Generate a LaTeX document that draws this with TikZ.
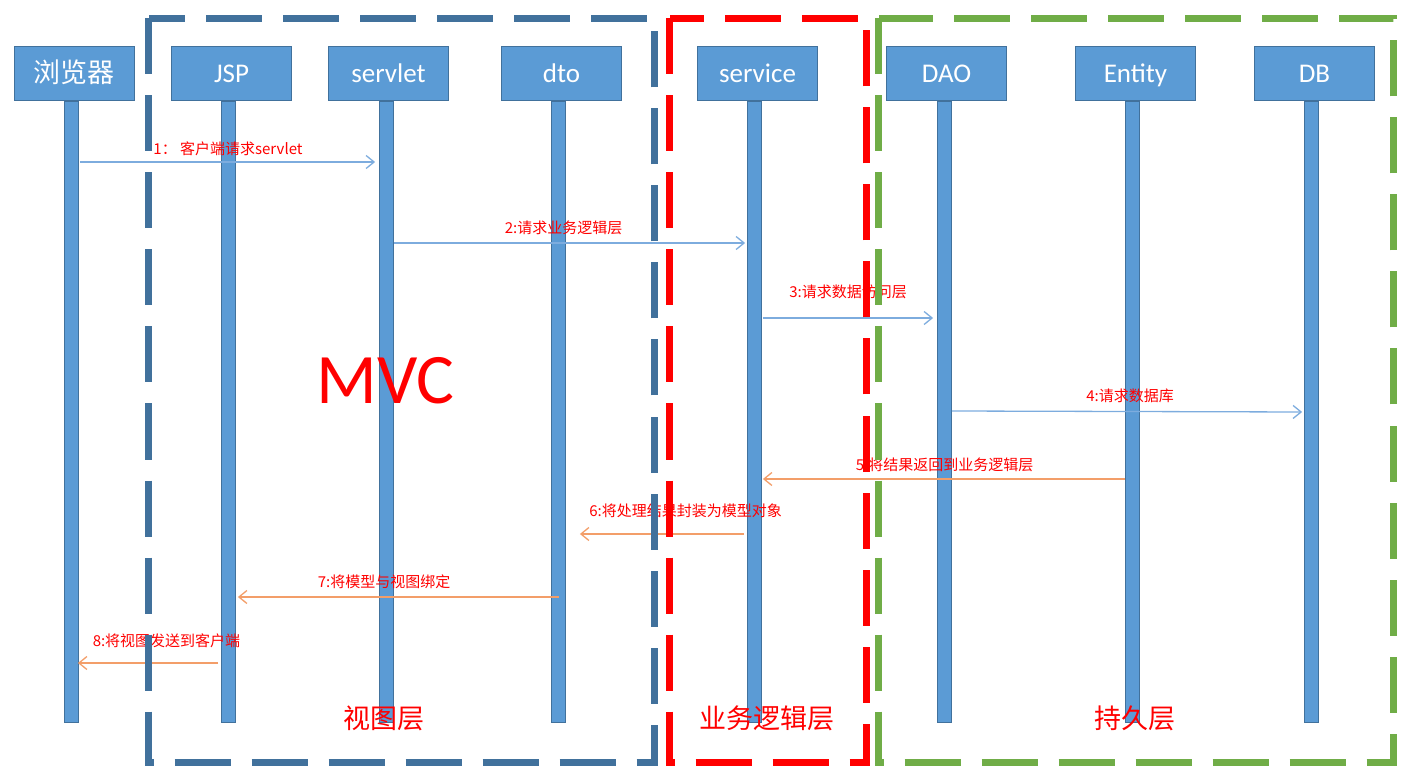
\documentclass[tikz,border=0pt]{standalone}
\usepackage{fontspec}
\setmainfont{Carlito}
\newfontfamily\cjk{Noto Sans CJK SC}
\usetikzlibrary{arrows.meta}
\definecolor{boxblue}{RGB}{91,155,213}
\definecolor{edgeblue}{RGB}{65,113,156}
\definecolor{arrblue}{RGB}{125,172,222}
\definecolor{arrorange}{RGB}{243,158,105}
\definecolor{dred}{RGB}{255,0,0}
\definecolor{dgreen}{RGB}{112,173,71}
\begin{document}
\begin{tikzpicture}[x=1pt,y=-1pt,
  hdr/.style={draw=edgeblue, fill=boxblue, line width=1pt, minimum width=120pt, minimum height=54pt, inner sep=0pt, text height=20pt, text depth=1pt, text=white, font=\fontsize{27}{30}\selectfont},
  life/.style={draw=edgeblue, fill=boxblue, line width=0.8pt, minimum width=14pt, minimum height=621pt, inner sep=0pt},
  msg/.style={line width=1.3pt, -{Straight Barb[length=8pt,width=13pt]}},
  req/.style={msg, draw=arrblue},
  ret/.style={msg, draw=arrorange},
  lbl/.style={text=dred, font=\cjk\fontsize{15}{15}\selectfont, inner sep=0pt},
  layer/.style={text=dred, font=\cjk\fontsize{27}{30}\selectfont, inner sep=0pt},
  zone/.style={line width=7pt, dash pattern=on 56pt off 21pt}
]
\useasboundingbox (0,0) rectangle (1419,783);

% lifelines
\node[life] (lb)  at (71.5,412) {};
\node[life] (lj)  at (228.5,412) {};
\node[life] (ls)  at (386.5,412) {};
\node[life] (ldt) at (558.5,412) {};
\node[life] (lsv) at (754.5,412) {};
\node[life] (lda) at (944.5,412) {};
\node[life] (len) at (1132.5,412) {};
\node[life] (ldb) at (1311.5,412) {};

% headers
\node[hdr] (hb)  at (74,73.5) {\cjk 浏览器};
\node[hdr] (hj)  at (231.5,73.5) {JSP};
\node[hdr] (hs)  at (388.5,73.5) {servlet};
\node[hdr] (hdt) at (561.5,73.5) {dto};
\node[hdr] (hsv) at (757.5,73.5) {service};
\node[hdr] (hda) at (946.5,73.5) {DAO};
\node[hdr] (hen) at (1135.5,73.5) {Entity};
\node[hdr] (hdb) at (1314.5,73.5) {DB};

% messages
\draw[req] ([xshift=1pt]lb.east |- 0,162) -- ([xshift=-4pt]ls.west |- 0,162);
\draw[req] (ls.east |- 0,243) -- ([xshift=-2pt]lsv.west |- 0,243);
\draw[req] ([xshift=1pt]lsv.east |- 0,318) -- ([xshift=-4pt]lda.west |- 0,318);
\draw[req] (lda.east |- 0,411) -- ([xshift=-2pt]ldb.west |- 0,412);
\draw[ret] (len.west |- 0,479) -- ([xshift=1pt]lsv.east |- 0,479);
\draw[ret] ([xshift=-3pt]lsv.west |- 0,534) -- ([xshift=14pt]ldt.east |- 0,534);
\draw[ret] (ldt.center |- 0,597) -- ([xshift=2pt]lj.east |- 0,597);
\draw[ret] ([xshift=-3pt]lj.west |- 0,663) -- ([xshift=-1pt]lb.east |- 0,663);

% message labels
\node[lbl] (m1) at (228,149) {1： 客户端请求servlet};
\node[lbl] (m2) at (563.5,228) {2:请求业务逻辑层};
\node[lbl] (m3) at (848,292) {3:请求数据访问层};
\node[lbl] (m4) at (1130,396) {4:请求数据库};
\node[lbl] (m5) at (944.5,465) {5:将结果返回到业务逻辑层};
\node[lbl] (m6) at (685.5,511) {6:将处理结果封装为模型对象};
\node[lbl] (m7) at (384,582) {7:将模型与视图绑定};
\node[lbl] (m8) at (166.5,641) {8:将视图发送到客户端};

% big text
\node[text=dred, font=\fontsize{71}{71}\selectfont, inner sep=0pt] (mvc) at (385.5,381) {MVC};
\node[layer] (t1) at (384,718) {视图层};
\node[layer] (t2) at (767,718) {业务逻辑层};
\node[layer] (t3) at (1135,718) {持久层};

% zones
\draw[zone, draw=edgeblue] (148.5,18.5) -- (148.5,762.5) -- (654.5,762.5) -- (654.5,18.5) -- cycle;
\draw[zone, draw=dred] (669.5,18.5) -- (669.5,762.5) -- (866.5,762.5) -- (866.5,18.5) -- cycle;
\draw[zone, draw=dgreen] (878.5,18.5) -- (878.5,762.5) -- (1393.5,762.5) -- (1393.5,18.5) -- cycle;
\end{tikzpicture}
\end{document}
